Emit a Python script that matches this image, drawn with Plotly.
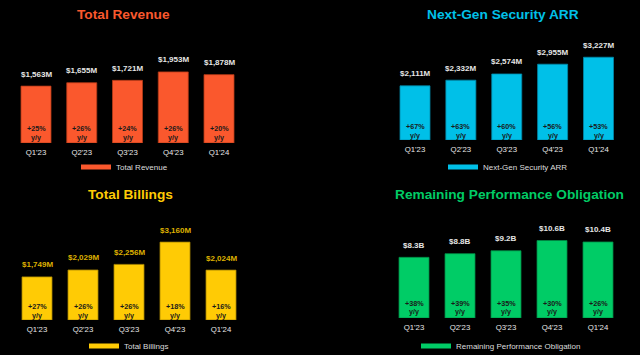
import plotly.graph_objects as go

W, H = 640, 355

quarters = ["Q1'23", "Q2'23", "Q3'23", "Q4'23", "Q1'24"]
revenue = [1563, 1655, 1721, 1953, 1878]
revenue_yoy = [25, 26, 24, 26, 20]
arr = [2111, 2332, 2574, 2955, 3227]
arr_yoy = [67, 63, 60, 56, 53]
billings = [1749, 2029, 2256, 3160, 2024]
billings_yoy = [27, 26, 26, 18, 16]
rpo = [8.3, 8.8, 9.2, 10.6, 10.4]
rpo_yoy = [38, 39, 35, 30, 26]

FONT = "Liberation Sans, Arial, sans-serif"


def px_x(p):
    return p / W


def px_y(p):
    return 1 - p / H


panels = [
    dict(title="Total Revenue", values=revenue, yoy=revenue_yoy,
         labels=[f"${v:,}M" for v in revenue], color="#FA582D", line="#B53A17",
         label_color="#E6E6E6", legend_name="Total Revenue",
         c0=36, c4=219, bottom=143, top=40, scale=0.0364,
         title_xy=(123, 15), legend_xy=(82, 167),
         yoy_shift=(15, 6)),
    dict(title="Next-Gen Security ARR", values=arr, yoy=arr_yoy,
         labels=[f"${v:,}M" for v in arr], color="#00C0E8", line="#0088A8",
         label_color="#E6E6E6", legend_name="Next-Gen Security ARR",
         c0=415, c4=598.5, bottom=140, top=40, scale=0.02565,
         title_xy=(503, 15), legend_xy=(449, 167),
         yoy_shift=(14, 5)),
    dict(title="Total Billings", values=billings, yoy=billings_yoy,
         labels=[f"${v:,}M" for v in billings], color="#FFCB05", line="#A88500",
         label_color="#DDB000", legend_name="Total Billings",
         c0=37, c4=221, bottom=320, top=218, scale=0.02465,
         title_xy=(130, 194), legend_xy=(90, 346),
         yoy_shift=(14, 5)),
    dict(title="Remaining Performance Obligation", values=rpo, yoy=rpo_yoy,
         labels=[f"${v}B" for v in rpo], color="#00CC66", line="#008A45",
         label_color="#E6E6E6", legend_name="Remaining Performance Obligation",
         c0=414, c4=598, bottom=318, top=218, scale=7.31,
         title_xy=(509, 194), legend_xy=(422, 346),
         yoy_shift=(15, 7)),
]

fig = go.Figure()
annotations = []
layout = dict(
    width=W, height=H,
    margin=dict(l=0, r=0, t=0, b=0, autoexpand=False),
    paper_bgcolor="black", plot_bgcolor="black",
    showlegend=True,
    barmode="group",
    font=dict(family=FONT, color="#E6E6E6"),
)

for i, p in enumerate(panels):
    n = i + 1
    sfx = "" if n == 1 else str(n)
    xa, ya = "x" + sfx, "y" + sfx
    unit = (p["c4"] - p["c0"]) / 4.0
    x_left = p["c0"] - unit / 2
    x_right = p["c4"] + unit / 2
    ymax = (p["bottom"] - p["top"]) / p["scale"]
    leg = "legend" + sfx

    fig.add_trace(go.Bar(
        x=quarters, y=p["values"], xaxis=xa, yaxis=ya,
        marker=dict(color=p["color"], line=dict(color=p["line"], width=0.8)),
        width=30 / unit, showlegend=False, hoverinfo="skip",
    ))
    fig.add_trace(go.Scatter(
        x=[None], y=[None], xaxis=xa, yaxis=ya, mode="lines",
        line=dict(color=p["color"], width=5), name=p["legend_name"],
        legend=leg, showlegend=True, hoverinfo="skip",
    ))

    layout["xaxis" + sfx] = dict(
        domain=[px_x(x_left), px_x(x_right)],
        range=[-0.5, 4.5], type="category",
        anchor=ya, showgrid=False, zeroline=False, showline=False,
        ticks="", tickfont=dict(size=7.8, color="#E6E6E6", family=FONT),
        ticklabelstandoff=3, fixedrange=True, automargin=False,
    )
    layout["yaxis" + sfx] = dict(
        domain=[px_y(p["bottom"]), px_y(p["top"])],
        range=[0, ymax], anchor=xa, visible=False, fixedrange=True,
    )
    layout[leg] = dict(
        x=px_x(p["legend_xy"][0] - 6), y=px_y(p["legend_xy"][1]),
        xanchor="left", yanchor="middle", bgcolor="rgba(0,0,0,0)",
        font=dict(size=8, color="#DDDDDD", family=FONT),
        itemclick=False, itemdoubleclick=False,
    )

    annotations.append(dict(
        text=f"<b>{p['title']}</b>", x=px_x(p["title_xy"][0]), y=px_y(p["title_xy"][1]),
        xref="paper", yref="paper", xanchor="center", yanchor="middle",
        showarrow=False, font=dict(size=13.7, color=p["color"], family=FONT),
    ))
    for q, v, lab, g in zip(quarters, p["values"], p["labels"], p["yoy"]):
        annotations.append(dict(
            text=f"<b>{lab}</b>", x=q, y=v, xref=xa, yref=ya,
            xanchor="center", yanchor="middle", yshift=12, showarrow=False,
            font=dict(size=8, color=p["label_color"], family=FONT),
        ))
        annotations.append(dict(
            text=f"<b>+{g}%</b>", x=q, y=0, xref=xa, yref=ya,
            xanchor="center", yanchor="middle", yshift=p["yoy_shift"][0], showarrow=False,
            font=dict(size=7.2, color="#1A1A1A", family=FONT),
        ))
        annotations.append(dict(
            text="<b>y/y</b>", x=q, y=0, xref=xa, yref=ya,
            xanchor="center", yanchor="middle", yshift=p["yoy_shift"][1], showarrow=False,
            font=dict(size=7.2, color="#1A1A1A", family=FONT),
        ))

layout["annotations"] = annotations
fig.update_layout(**layout)
fig.write_html(
    "out.html",
    config={"displayModeBar": False},
    post_script="document.body.style.margin='0';document.body.style.background='black';document.body.style.overflow='hidden';",
)
